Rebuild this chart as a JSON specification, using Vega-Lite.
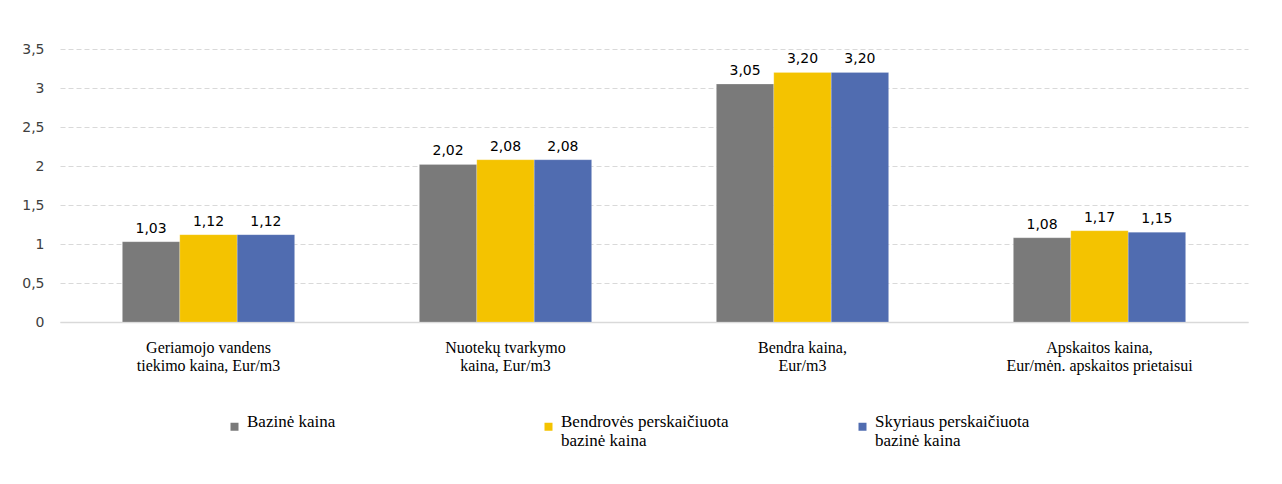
{
  "$schema": "https://vega.github.io/schema/vega-lite/v6.json",
  "width": 1188,
  "height": 273,
  "autosize": {"type": "none"},
  "padding": {"left": 60, "top": 49, "right": 34, "bottom": 162},
  "background": "white",
  "data": {
    "values": [
      {"cat": "Geriamojo vandens\ntiekimo kaina, Eur/m3", "series": "Bazinė kaina", "value": 1.03},
      {"cat": "Geriamojo vandens\ntiekimo kaina, Eur/m3", "series": "Bendrovės perskaičiuota\nbazinė kaina", "value": 1.12},
      {"cat": "Geriamojo vandens\ntiekimo kaina, Eur/m3", "series": "Skyriaus perskaičiuota\nbazinė kaina", "value": 1.12},
      {"cat": "Nuotekų tvarkymo\nkaina, Eur/m3", "series": "Bazinė kaina", "value": 2.02},
      {"cat": "Nuotekų tvarkymo\nkaina, Eur/m3", "series": "Bendrovės perskaičiuota\nbazinė kaina", "value": 2.08},
      {"cat": "Nuotekų tvarkymo\nkaina, Eur/m3", "series": "Skyriaus perskaičiuota\nbazinė kaina", "value": 2.08},
      {"cat": "Bendra kaina,\nEur/m3", "series": "Bazinė kaina", "value": 3.05},
      {"cat": "Bendra kaina,\nEur/m3", "series": "Bendrovės perskaičiuota\nbazinė kaina", "value": 3.20},
      {"cat": "Bendra kaina,\nEur/m3", "series": "Skyriaus perskaičiuota\nbazinė kaina", "value": 3.20},
      {"cat": "Apskaitos kaina,\nEur/mėn. apskaitos prietaisui", "series": "Bazinė kaina", "value": 1.08},
      {"cat": "Apskaitos kaina,\nEur/mėn. apskaitos prietaisui", "series": "Bendrovės perskaičiuota\nbazinė kaina", "value": 1.17},
      {"cat": "Apskaitos kaina,\nEur/mėn. apskaitos prietaisui", "series": "Skyriaus perskaičiuota\nbazinė kaina", "value": 1.15}
    ]
  },
  "encoding": {
    "x": {
      "field": "cat",
      "type": "nominal",
      "sort": null,
      "title": null,
      "scale": {"paddingInner": 0.42, "paddingOuter": 0.21},
      "axis": {
        "labelAngle": 0,
        "labelExpr": "split(datum.label, '\\n')",
        "labelFont": "Liberation Serif, Times New Roman, serif",
        "labelFontSize": 16,
        "labelLineHeight": 18,
        "labelColor": "#000000",
        "labelPadding": 17,
        "labelBaseline": "top",
        "ticks": false,
        "domainColor": "#d9d9d9",
        "domainWidth": 1.5,
        "labelLimit": 300
      }
    },
    "xOffset": {"field": "series", "type": "nominal", "sort": null},
    "y": {
      "field": "value",
      "type": "quantitative",
      "title": null,
      "scale": {"domain": [0, 3.5]},
      "axis": {
        "values": [0, 0.5, 1, 1.5, 2, 2.5, 3, 3.5],
        "format": ".1~f",
        "domain": false,
        "ticks": false,
        "labelFont": "DejaVu Sans",
        "labelFontSize": 14,
        "labelColor": "#404040",
        "labelPadding": 16,
        "gridColor": "#d9d9d9",
        "gridDash": [5, 3],
        "gridWidth": 1
      }
    }
  },
  "layer": [
    {
      "mark": {"type": "bar", "stroke": "#ffffff", "strokeWidth": 0.5, "strokeOpacity": 0.4},
      "encoding": {
        "color": {
          "field": "series",
          "type": "nominal",
          "sort": null,
          "scale": {
            "domain": ["Bazinė kaina", "Bendrovės perskaičiuota\nbazinė kaina", "Skyriaus perskaičiuota\nbazinė kaina"],
            "range": ["#7a7a7a", "#f4c300", "#506cb0"]
          },
          "legend": {
            "orient": "none",
            "legendX": 166,
            "legendY": 369,
            "direction": "horizontal",
            "columns": 3,
            "title": null,
            "symbolType": "square",
            "symbolSize": 64,
            "symbolStrokeWidth": 0,
            "labelExpr": "indexof(datum.label, '\\n') < 0 ? [datum.label, ' '] : split(datum.label, '\\n')",
            "labelFont": "Liberation Serif, Times New Roman, serif",
            "labelFontSize": 17,
            "labelLineHeight": 20,
            "labelBaseline": "alphabetic",
            "labelColor": "#000000",
            "labelLimit": 300,
            "labelOffset": 4,
            "columnPadding": 125,
            "gridAlign": "all",
            "padding": 0
          }
        }
      }
    },
    {
      "mark": {"type": "text", "baseline": "bottom", "dy": -6, "font": "DejaVu Sans", "fontSize": 14, "color": "#000000"},
      "encoding": {
        "text": {"field": "value", "type": "quantitative", "format": ".2f"}
      }
    }
  ],
  "config": {
    "view": {"stroke": null},
    "locale": {"number": {"decimal": ",", "thousands": " ", "grouping": [3], "currency": ["", " €"]}}
  }
}
